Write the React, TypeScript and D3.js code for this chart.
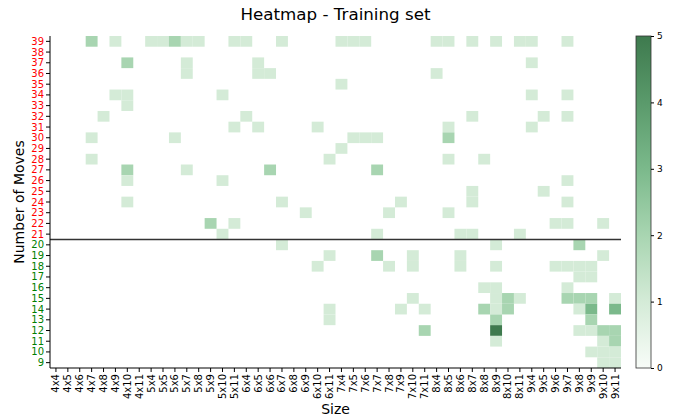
import React, { useEffect, useRef } from "react";
import * as d3 from "d3";

const sizes = [
  "4x4", "4x5", "4x6", "4x7", "4x8", "4x9", "4x10", "4x11",
  "5x4", "5x5", "5x6", "5x7", "5x8", "5x9", "5x10", "5x11",
  "6x4", "6x5", "6x6", "6x7", "6x8", "6x9", "6x10", "6x11",
  "7x4", "7x5", "7x6", "7x7", "7x8", "7x9", "7x10", "7x11",
  "8x4", "8x5", "8x6", "8x7", "8x8", "8x9", "8x10", "8x11",
  "9x4", "9x5", "9x6", "9x7", "9x8", "9x9", "9x10", "9x11",
];

const moves = [
  39, 38, 37, 36, 35, 34, 33, 32, 31, 30, 29, 28, 27, 26, 25, 24,
  23, 22, 21, 20, 19, 18, 17, 16, 15, 14, 13, 12, 11, 10, 9,
];

// [size, moves, count]
const cells: [string, number, number][] = [
  ["4x7", 39, 2], ["4x9", 39, 1], ["5x4", 39, 1], ["5x5", 39, 1], ["5x6", 39, 2],
  ["5x7", 39, 1], ["5x8", 39, 1], ["5x11", 39, 1], ["6x4", 39, 1], ["6x7", 39, 1],
  ["7x4", 39, 1], ["7x5", 39, 1], ["7x6", 39, 1], ["8x4", 39, 1], ["8x5", 39, 1],
  ["8x7", 39, 1], ["8x9", 39, 1], ["8x11", 39, 1], ["9x4", 39, 1], ["9x7", 39, 1],
  ["4x10", 37, 2], ["5x7", 37, 1], ["6x5", 37, 1], ["9x4", 37, 1],
  ["5x7", 36, 1], ["6x5", 36, 1], ["6x6", 36, 1], ["8x4", 36, 1],
  ["7x4", 35, 1],
  ["4x9", 34, 1], ["4x10", 34, 1], ["5x10", 34, 1], ["9x4", 34, 1], ["9x7", 34, 1],
  ["4x10", 33, 1],
  ["4x8", 32, 1], ["6x4", 32, 1], ["8x7", 32, 1], ["9x5", 32, 1], ["9x7", 32, 1],
  ["5x11", 31, 1], ["6x5", 31, 1], ["6x10", 31, 1], ["8x5", 31, 1], ["9x4", 31, 1],
  ["4x7", 30, 1], ["5x6", 30, 1], ["7x5", 30, 1], ["7x6", 30, 1], ["7x7", 30, 1], ["8x5", 30, 2],
  ["7x4", 29, 1],
  ["4x7", 28, 1], ["6x11", 28, 1], ["8x5", 28, 1], ["8x8", 28, 1],
  ["4x10", 27, 2], ["5x7", 27, 1], ["6x6", 27, 2], ["7x7", 27, 2],
  ["4x10", 26, 1], ["5x10", 26, 1], ["9x7", 26, 1],
  ["8x7", 25, 1], ["9x5", 25, 1],
  ["4x10", 24, 1], ["6x7", 24, 1], ["7x9", 24, 1], ["8x7", 24, 1], ["9x7", 24, 1],
  ["6x9", 23, 1], ["7x8", 23, 1], ["8x5", 23, 1],
  ["5x9", 22, 2], ["5x11", 22, 1], ["9x6", 22, 1], ["9x7", 22, 1], ["9x10", 22, 1],
  ["5x10", 21, 1], ["7x7", 21, 1], ["8x6", 21, 1], ["8x7", 21, 1], ["8x11", 21, 1],
  ["6x7", 20, 1], ["8x9", 20, 1], ["9x8", 20, 2],
  ["6x11", 19, 1], ["7x7", 19, 2], ["7x10", 19, 1], ["8x6", 19, 1], ["9x10", 19, 1],
  ["6x10", 18, 1], ["7x8", 18, 1], ["7x10", 18, 1], ["8x6", 18, 1], ["8x9", 18, 1],
  ["9x6", 18, 1], ["9x7", 18, 1], ["9x8", 18, 1], ["9x9", 18, 1],
  ["9x8", 17, 1], ["9x9", 17, 1],
  ["8x8", 16, 1], ["8x9", 16, 1], ["9x7", 16, 1],
  ["7x10", 15, 1], ["8x9", 15, 1], ["8x10", 15, 2], ["8x11", 15, 1],
  ["9x7", 15, 2], ["9x8", 15, 2], ["9x9", 15, 2], ["9x11", 15, 1],
  ["6x11", 14, 1], ["7x9", 14, 1], ["7x11", 14, 1], ["8x8", 14, 2], ["8x9", 14, 1],
  ["8x10", 14, 2], ["9x8", 14, 1], ["9x9", 14, 3], ["9x11", 14, 3],
  ["6x11", 13, 1], ["8x9", 13, 2], ["9x9", 13, 2],
  ["7x11", 12, 2], ["8x9", 12, 5], ["9x8", 12, 1], ["9x9", 12, 1], ["9x10", 12, 2], ["9x11", 12, 2],
  ["8x9", 11, 1], ["9x10", 11, 1], ["9x11", 11, 2],
  ["9x9", 10, 1], ["9x10", 10, 1], ["9x11", 10, 1],
  ["9x10", 9, 1], ["9x11", 9, 1],
];

const colorTicks = [0, 1, 2, 3, 4, 5];
const colorStops = ["#f8fcf8", "#d4ebd7", "#a8d5b1", "#7bb98b", "#5a9a6b", "#3e7a4e"];
const splitMoves = 20; // rows at or below this are the short games

const App = () => {
  const svgRef = useRef<SVGSVGElement>(null);

  useEffect(() => {
    const svg = d3.select(svgRef.current);
    svg.selectAll("*").remove();
    const font = "DejaVu Sans, sans-serif";

    const left = 50, right = 621, top = 36, bottom = 368;

    const x = d3.scaleBand<string>().domain(sizes).range([left, right]);
    const y = d3.scaleBand<string>().domain(moves.map(String)).range([top, bottom]);
    const color = d3.scaleLinear<string>().domain(colorTicks).range(colorStops);

    // cells
    svg
      .append("g")
      .selectAll("rect")
      .data(cells)
      .join("rect")
      .attr("x", (d) => x(d[0]) as number)
      .attr("y", (d) => y(String(d[1])) as number)
      .attr("width", x.bandwidth())
      .attr("height", y.bandwidth())
      .attr("fill", (d) => color(d[2]));

    // split line
    svg
      .append("line")
      .attr("x1", left)
      .attr("x2", right)
      .attr("y1", y(String(splitMoves)) as number)
      .attr("y2", y(String(splitMoves)) as number)
      .attr("stroke", "#333")
      .attr("stroke-width", 1.5);

    // spines
    svg.append("line").attr("x1", left).attr("x2", left).attr("y1", top).attr("y2", bottom)
      .attr("stroke", "#000").attr("stroke-width", 1);
    svg.append("line").attr("x1", left).attr("x2", right).attr("y1", bottom).attr("y2", bottom)
      .attr("stroke", "#000").attr("stroke-width", 1);

    // y ticks
    const yt = svg.append("g").selectAll("g").data(moves).join("g")
      .attr("transform", (d) => `translate(${left},${(y(String(d)) as number) + y.bandwidth() / 2})`);
    yt.append("line").attr("x1", -4).attr("x2", 0).attr("stroke", "#000");
    yt.append("text")
      .attr("x", -6)
      .attr("dy", "0.35em")
      .attr("text-anchor", "end")
      .attr("font-family", font)
      .attr("font-size", 10)
      .attr("fill", (d) => (d > splitMoves ? "#ff0000" : "#008000"))
      .text((d) => d);

    // x ticks
    const xt = svg.append("g").selectAll("g").data(sizes).join("g")
      .attr("transform", (d) => `translate(${(x(d) as number) + x.bandwidth() / 2},${bottom})`);
    xt.append("line").attr("y1", 0).attr("y2", 4).attr("stroke", "#000");
    xt.append("text")
      .attr("transform", "translate(0,6) rotate(-90)")
      .attr("dy", "0.35em")
      .attr("text-anchor", "end")
      .attr("font-family", font)
      .attr("font-size", 10)
      .attr("fill", "#000")
      .text((d) => d);

    // axis titles
    svg.append("text")
      .attr("x", (left + right) / 2)
      .attr("y", 414)
      .attr("text-anchor", "middle")
      .attr("font-family", font)
      .attr("font-size", 14)
      .text("Size");
    svg.append("text")
      .attr("transform", `translate(24,${(top + bottom) / 2}) rotate(-90)`)
      .attr("text-anchor", "middle")
      .attr("font-family", font)
      .attr("font-size", 14)
      .text("Number of Moves");

    // title
    svg.append("text")
      .attr("x", (left + right) / 2)
      .attr("y", 20)
      .attr("text-anchor", "middle")
      .attr("font-family", font)
      .attr("font-size", 16.7)
      .text("Heatmap - Training set");

    // colorbar
    const cbX = 636, cbW = 15;
    const cb = d3.scaleLinear().domain([0, 5]).range([bottom, top]);
    const grad = svg.append("defs").append("linearGradient")
      .attr("id", "cbgrad").attr("x1", 0).attr("x2", 0).attr("y1", 1).attr("y2", 0);
    grad.selectAll("stop").data(colorTicks).join("stop")
      .attr("offset", (d) => d / 5)
      .attr("stop-color", (d) => color(d));
    svg.append("rect")
      .attr("x", cbX).attr("y", top).attr("width", cbW).attr("height", bottom - top)
      .attr("fill", "url(#cbgrad)")
      .attr("stroke", "#333").attr("stroke-width", 0.8);
    const cbAxis = svg.append("g")
      .attr("transform", `translate(${cbX + cbW},0)`)
      .call(d3.axisRight(cb).tickValues(colorTicks).tickSize(3).tickSizeOuter(0).tickFormat(d3.format("d")));
    cbAxis.select(".domain").remove();
    cbAxis.selectAll("text").attr("font-family", font).attr("font-size", 9).attr("fill", "#000");
    cbAxis.selectAll("line").attr("stroke", "#000");
  }, []);

  return (
    <svg
      ref={svgRef}
      width={677}
      height={419}
      style={{ position: "absolute", left: 0, top: 0, background: "#fff" }}
    />
  );
};

export default App;
